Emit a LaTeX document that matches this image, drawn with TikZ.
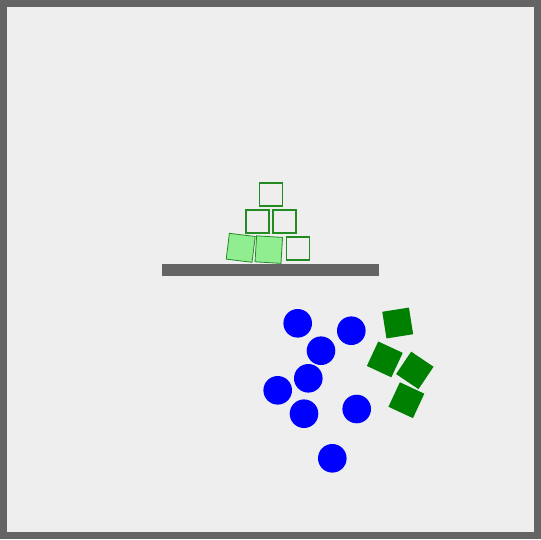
\documentclass[tikz,border=0pt]{standalone}
\definecolor{frame}{RGB}{100,100,100}
\definecolor{bg}{RGB}{238,238,238}
\definecolor{fgreen}{RGB}{34,139,34}
\definecolor{lgreen}{RGB}{144,238,144}
\definecolor{dgreen}{RGB}{0,128,0}
\definecolor{ball}{RGB}{0,0,255}
\tikzset{
  box/.style={draw=fgreen, line width=1.6pt, fill=none, minimum size=23pt, inner sep=0pt, shape=rectangle},
  litebox/.style={draw=fgreen, line width=0.8pt, fill=lgreen, minimum size=26pt, inner sep=0pt, shape=rectangle},
  dbox/.style={fill=dgreen, minimum size=27pt, inner sep=0pt, shape=rectangle},
  disc/.style={fill=ball, circle, minimum size=28.6pt, inner sep=0pt},
}
\begin{document}
\begin{tikzpicture}[x=1pt,y=-1pt]
\useasboundingbox (0,0) rectangle (541,539);
\fill[bg] (0,0) rectangle (541,539);
\draw[frame, line width=7pt] (3.5,3.5) rectangle (537.5,535.5);
% platform
\node[fill=frame, minimum width=217pt, minimum height=11.5pt, inner sep=0pt] (platform) at (270.7,270) {};
% pyramid
\node[box] (t1) at (271,194.2) {};
\node[box] (m1) at (257.5,221.5) {};
\node[box] (m2) at (284.5,221.5) {};
\node[box] (b3) at (298,248.3) {};
\node[litebox, rotate=-7] (b1) at (240.7,247.8) {};
\node[litebox, rotate=-3.5] (b2) at (268.8,249.6) {};
% balls
\node[disc] (c1) at (297.7,323.3) {};
\node[disc] (c2) at (351.3,330.7) {};
\node[disc] (c3) at (321,350.7) {};
\node[disc] (c4) at (308.3,378.3) {};
\node[disc] (c5) at (277.7,390.3) {};
\node[disc] (c6) at (304,413.7) {};
\node[disc] (c7) at (356.7,409) {};
\node[disc] (c8) at (332.3,458.3) {};
% dark green squares
\node[dbox, rotate=9] (s1) at (397.7,323) {};
\node[dbox, rotate=-25] (s2) at (384.8,359.4) {};
\node[dbox, rotate=-34] (s3) at (414.8,370.4) {};
\node[dbox, rotate=-25] (s4) at (406.4,400.2) {};
\end{tikzpicture}
\end{document}
